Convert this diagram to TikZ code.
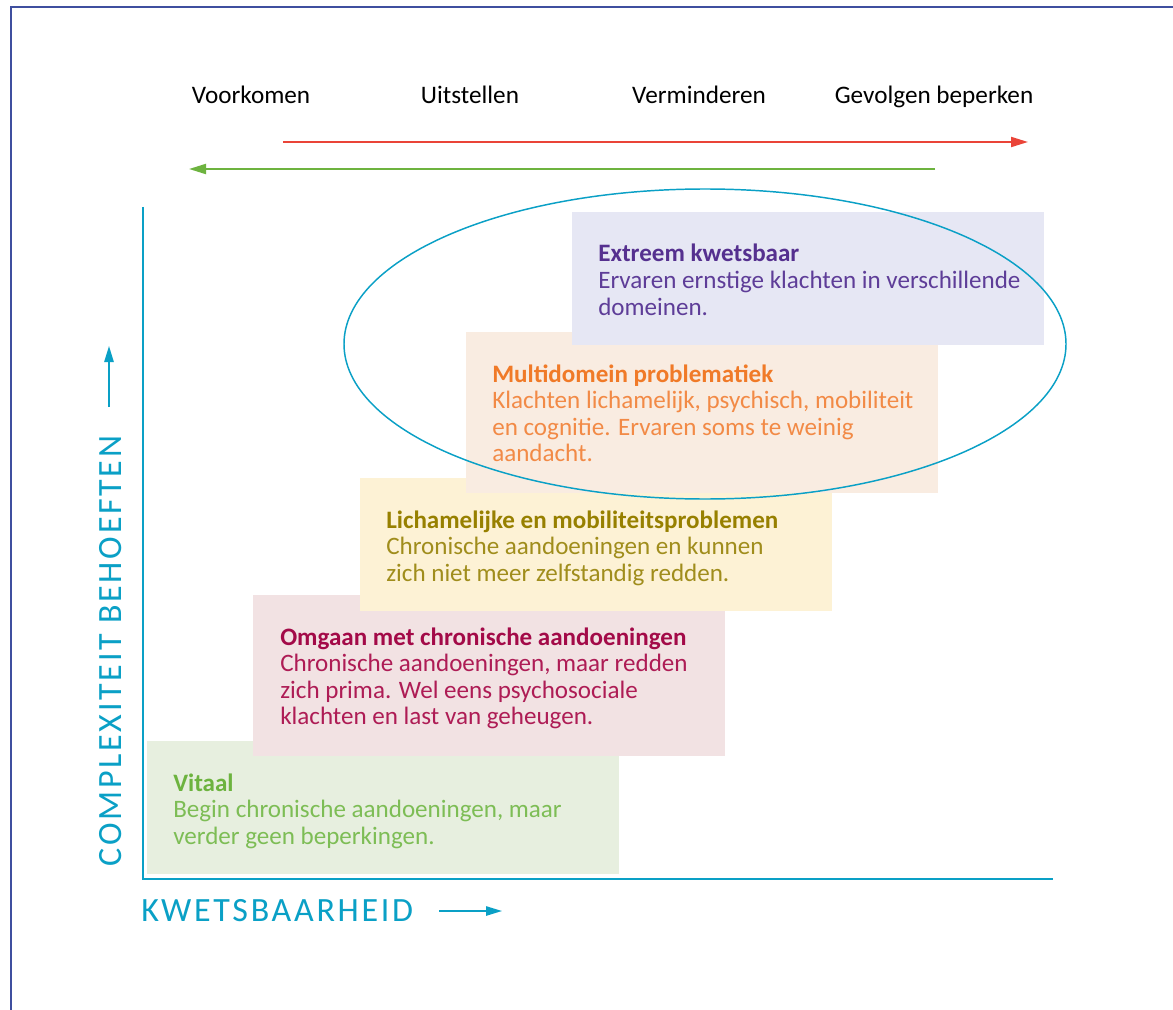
\documentclass[tikz,border=0pt]{standalone}
\usepackage{fontspec}
\setmainfont{Carlito}
\newfontfamily\axisfont[LetterSpace=8]{Carlito}
\usetikzlibrary{arrows.meta}
\definecolor{framecol}{HTML}{3F4F9F}
\definecolor{teal}{HTML}{0AA0C6}
\definecolor{redarrow}{HTML}{EA4438}
\definecolor{greenarrow}{HTML}{6DB33F}
\definecolor{vitfill}{HTML}{E7EFDF}
\definecolor{vittitle}{HTML}{6DB33F}
\definecolor{vittext}{HTML}{7DBD55}
\definecolor{omgfill}{HTML}{F2E2E3}
\definecolor{omgtitle}{HTML}{A30A48}
\definecolor{omgtext}{HTML}{AE1C55}
\definecolor{lichfill}{HTML}{FDF2D5}
\definecolor{lichtitle}{HTML}{978000}
\definecolor{lichtext}{HTML}{A08D1C}
\definecolor{multfill}{HTML}{F9ECE1}
\definecolor{multtitle}{HTML}{F07A28}
\definecolor{multtext}{HTML}{F28A46}
\definecolor{extfill}{HTML}{E6E7F4}
\definecolor{exttitle}{HTML}{55308F}
\definecolor{exttext}{HTML}{5E3D98}
\begin{document}
\begin{tikzpicture}[x=0.75pt,y=-0.75pt,
  box/.style={anchor=north west, inner sep=0pt, minimum width=354pt},
  box3/.style={box, minimum height=99.75pt},
  box4/.style={box, minimum height=120.75pt},
  txt/.style={anchor=base west, inner sep=0pt, font=\fontsize{18.8}{19.9}\selectfont},
  toplabel/.style={anchor=base, inner sep=0pt, font=\fontsize{18.9}{22}\selectfont},
  axislabel/.style={inner sep=0pt, text=teal, font=\axisfont\fontsize{25.5}{30}\selectfont},
  axisline/.style={draw=teal, line width=1.5pt},
  smallarrow/.style={draw=teal, line width=1.2pt, -{Triangle[length=12pt,width=7pt]}},
  bigarrow/.style={line width=1.5pt, -{Triangle[length=12.75pt,width=7.5pt]}}
]
\useasboundingbox (0,0) rectangle (1173,1009);
\fill[white] (0,0) rectangle (1173,1009);
% frame
\draw[framecol, line width=0.9pt] (11,1012) -- (11,7) -- (1176,7);

% top labels
\node[toplabel] (l1) at (251,104) {Voorkomen};
\node[toplabel] (l2) at (470,104) {Uitstellen};
\node[toplabel] (l3) at (699,104) {Verminderen};
\node[toplabel] (l4) at (934,104) {Gevolgen beperken};

% arrows
\coordinate (rs) at (283,142);
\coordinate (re) at (1028,142);
\draw[bigarrow, redarrow] (rs) -- (re);
\coordinate (gs) at (935,169);
\coordinate (ge) at (189,169);
\draw[bigarrow, greenarrow] (gs) -- (ge);

% boxes (lower first)
\node[box3, fill=vitfill] (vbox) at (147,741) {};
\node[txt] (vtxt) at (173,791) {\begin{tabular}[t]{@{}l@{}}\color{vittitle}\textbf{Vitaal}\\\color{vittext}Begin chronische aandoeningen, maar\\\color{vittext}verder geen beperkingen.\end{tabular}};

\node[box4, fill=omgfill] (obox) at (253,595) {};
\node[txt] (otxt) at (280,645) {\begin{tabular}[t]{@{}l@{}}\color{omgtitle}\textbf{Omgaan met chronische aandoeningen}\\\color{omgtext}Chronische aandoeningen, maar redden\\\color{omgtext}zich prima. Wel eens psychosociale\\\color{omgtext}klachten en last van geheugen.\end{tabular}};

\node[box3, fill=lichfill] (lbox) at (360,478) {};
\node[txt] (ltxt) at (386,528) {\begin{tabular}[t]{@{}l@{}}\color{lichtitle}\textbf{Lichamelijke en mobiliteitsproblemen}\\\color{lichtext}Chronische aandoeningen en kunnen\\\color{lichtext}zich niet meer zelfstandig redden.\end{tabular}};

\node[box4, fill=multfill] (mbox) at (466,332) {};
\node[txt] (mtxt) at (492,382) {\begin{tabular}[t]{@{}l@{}}\color{multtitle}\textbf{Multidomein problematiek}\\\color{multtext}Klachten lichamelijk, psychisch, mobiliteit\\\color{multtext}en cognitie. Ervaren soms te weinig\\\color{multtext}aandacht.\end{tabular}};

\node[box3, fill=extfill] (ebox) at (572,212) {};
\node[txt] (etxt) at (598,262) {\begin{tabular}[t]{@{}l@{}}\color{exttitle}\textbf{Extreem kwetsbaar}\\\color{exttext}Ervaren ernstige klachten in verschillende\\\color{exttext}domeinen.\end{tabular}};

% ellipse
\draw[teal, line width=1.1pt] (705,344) ellipse [x radius=361, y radius=155];

% axes
\coordinate (ytop) at (143,207);
\coordinate (orig) at (143,879);
\coordinate (xend) at (1053,879);
\draw[axisline] (ytop) -- (orig) -- (xend);

% axis labels
\node[axislabel, anchor=base west] (xlab) at (141,921) {KWETSBAARHEID};
\coordinate (xas) at (439,911);
\coordinate (xae) at (502,911);
\draw[smallarrow] (xas) -- (xae);

\node[axislabel, anchor=base, rotate=90] (ylab) at (121,651) {COMPLEXITEIT BEHOEFTEN};
\coordinate (yas) at (109,407);
\coordinate (yae) at (109,346);
\draw[smallarrow] (yas) -- (yae);
\end{tikzpicture}
\end{document}
